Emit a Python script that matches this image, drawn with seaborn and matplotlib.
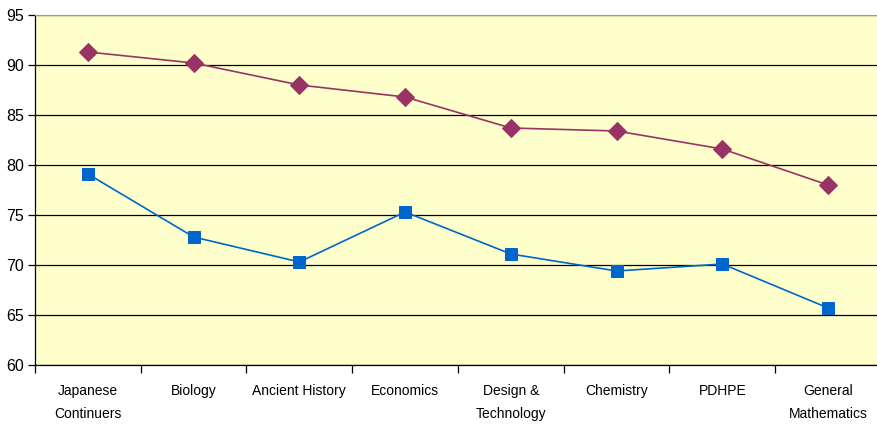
import pandas as pd
import numpy as np
import matplotlib.pyplot as plt
import seaborn as sns
from matplotlib.ticker import FixedLocator

# Data
subjects = ['Japanese\nContinuers', 'Biology', 'Ancient History', 'Economics',
            'Design &\nTechnology', 'Chemistry', 'PDHPE', 'General\nMathematics']
upper_scores = [91.3, 90.2, 88.0, 86.8, 83.7, 83.4, 81.6, 78.0]
lower_scores = [79.1, 72.8, 70.3, 75.3, 71.1, 69.4, 70.1, 65.7]
y_ticks = [60, 65, 70, 75, 80, 85, 90, 95]

sns.set_style('white')
plt.rcParams['font.family'] = ['Liberation Sans', 'DejaVu Sans']

fig = plt.figure(figsize=(8.78, 4.26), dpi=100)
ax = fig.add_axes([35 / 878, 1 - 365 / 426, 846 / 878, 350 / 426])
ax.set_facecolor('#FFFFCC')

sns.lineplot(x=subjects, y=upper_scores, sort=False, ax=ax, color='#993366',
             marker='D', markersize=9, markeredgecolor='#993366', linewidth=1.2)
sns.lineplot(x=subjects, y=lower_scores, sort=False, ax=ax, color='#0066CC',
             marker='s', markersize=9, markeredgecolor='#0066CC', linewidth=1.2)

ax.set_ylim(60, 95)
ax.set_xlim(-0.5, len(subjects) - 0.5)
ax.set_yticks(y_ticks)
ax.yaxis.grid(True, color='black', linewidth=0.9)
ax.xaxis.grid(False)
ax.set_axisbelow(True)

ax.xaxis.set_minor_locator(FixedLocator(np.arange(-0.5, len(subjects), 1.0)))
ax.tick_params(axis='x', which='major', bottom=True, length=0, pad=14,
               labelsize=10, labelcolor='black')
ax.tick_params(axis='x', which='minor', bottom=True, length=6, width=0.9,
               color='black', direction='out')
ax.tick_params(axis='y', left=True, length=5, width=0.9, color='black',
               direction='out', labelsize=11.5, labelcolor='black', pad=3)
for lab in ax.get_xticklabels():
    lab.set_linespacing(1.75)
    lab.set_verticalalignment('top')

ax.set_xlabel('')
ax.set_ylabel('')
for side in ['left', 'bottom']:
    ax.spines[side].set_color('black')
    ax.spines[side].set_linewidth(0.9)
ax.spines['top'].set_color('#999999')
ax.spines['top'].set_linewidth(0.8)
ax.spines['right'].set_visible(False)

fig.savefig('out.png', dpi=100, facecolor='white')
